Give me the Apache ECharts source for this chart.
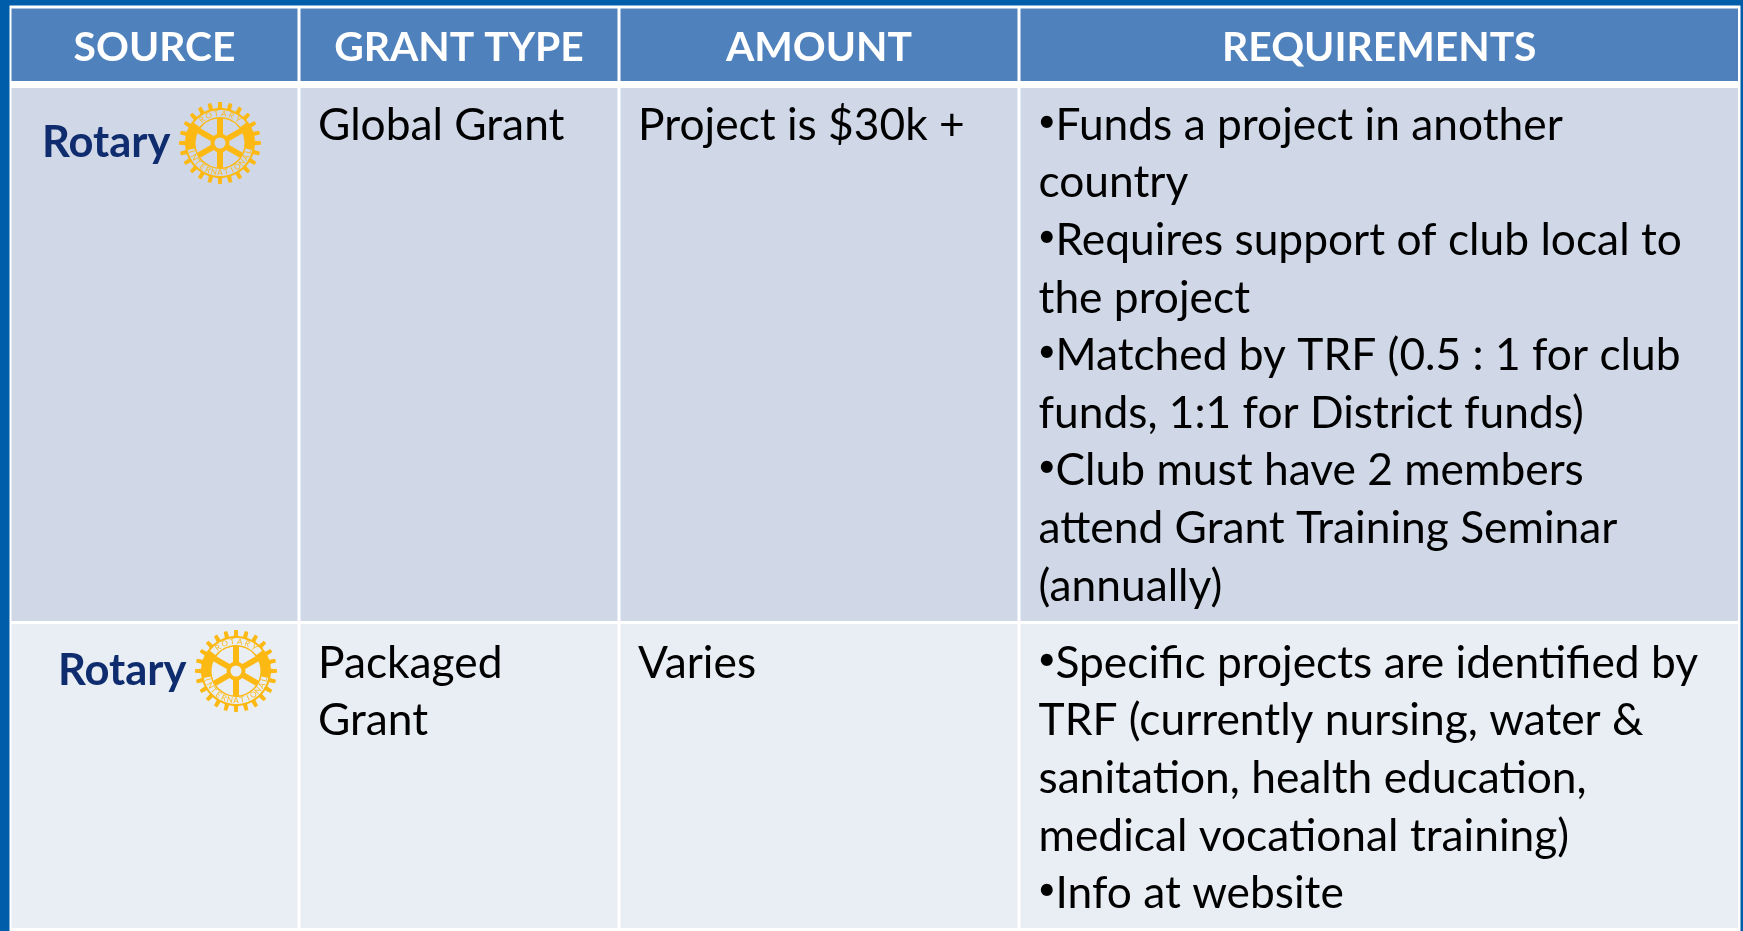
<!DOCTYPE html>
<html lang="en">

<head>
    <meta charset="UTF-8">
    <title>Rotary grants</title>
    <script src="https://cdnjs.cloudflare.com/ajax/libs/echarts/6.0.0/echarts.min.js"></script>
    <style>
        html, body { margin: 0; padding: 0; background: #005DAA; }
        #main { width: 1743px; height: 931px; }
    </style>
</head>

<body>
    <div id="main"></div>

    <script>
        // table content
        const headers = ['SOURCE', 'GRANT TYPE', 'AMOUNT', 'REQUIREMENTS'];
        const grantTypes = [['Global Grant'], ['Packaged', 'Grant']];
        const amounts = [['Project is $30k +'], ['Varies']];
        const requirements = [
            [
                '•Funds a project in another',
                'country',
                '•Requires support of club local to',
                'the project',
                '•Matched by TRF (0.5 : 1 for club',
                'funds, 1:1 for District funds)',
                '•Club must have 2 members',
                'attend Grant Training Seminar',
                '(annually)'
            ],
            [
                '•Specific projects are identified by',
                'TRF (currently nursing, water &',
                'sanitation, health education,',
                'medical vocational training)',
                '•Info at website'
            ]
        ];

        // layout, in axis units (same as pixels of the picture)
        const colLeft = [11.5, 300.5, 620.5, 1020.5];
        const colRight = [297.5, 617.5, 1017.5, 1738];
        const rowTop = [8.5, 88, 624];
        const rowBottom = [81, 621, 928];
        const logoAt = [[220, 143], [236, 671]];
        const wordAt = [[42, 157], [58, 685]];
        const firstBaseline = [140, 678];
        const lineStep = 57.6;
        const textX = [0, 318, 638, 1038.5];
        const bulletGap = 17;

        const FONT = 'Lato, Carlito, sans-serif';
        const BAND = '#005DAA', HEAD = '#4F81BD';
        const ROW_FILL = ['#D0D8E8', '#E9EDF4'];
        const GOLD = '#FDB913', NAVY = '#0F2D6E';

        const cells = [];
        rowTop.forEach((t, r) => colLeft.forEach((l, c) => cells.push([c, r])));

        const labels = [];
        headers.forEach((h, c) => labels.push({ value: [(colLeft[c] + colRight[c]) / 2, 62], text: h, head: true }));
        [grantTypes, amounts, requirements].forEach((col, c) => {
            col.forEach((lines, r) => {
                lines.forEach((text, i) => {
                    labels.push({ value: [textX[c + 1], firstBaseline[r] + i * lineStep], text: text });
                });
            });
        });

        function gearPoints(cx, cy, outer, root, teeth) {
            const pts = [];
            for (let i = 0; i < teeth; i++) {
                const a = i / teeth * Math.PI * 2;
                const w = Math.PI * 2 / teeth;
                [[-0.5, root], [-0.24, root], [-0.17, outer], [0.17, outer], [0.24, root]].forEach(p => {
                    pts.push([cx + Math.cos(a + p[0] * w) * p[1], cy + Math.sin(a + p[0] * w) * p[1]]);
                });
            }
            return pts;
        }

        function arcText(str, cx, cy, radius, midDeg, stepDeg, flip) {
            // letters set one by one round the ring
            const out = [];
            const n = str.length;
            for (let i = 0; i < n; i++) {
                const off = (i - (n - 1) / 2) * stepDeg;
                const deg = flip ? midDeg - off : midDeg + off;
                const a = deg * Math.PI / 180;
                out.push({
                    type: 'text',
                    x: cx + Math.cos(a) * radius,
                    y: cy + Math.sin(a) * radius,
                    rotation: flip ? (90 - deg) * Math.PI / 180 : (-90 - deg) * Math.PI / 180,
                    style: { text: str[i], font: '8px ' + FONT, fill: GOLD, align: 'center', verticalAlign: 'middle' }
                });
            }
            return out;
        }

        function renderLogo(params, api) {
            const i = params.dataIndex;
            const c = api.coord(logoAt[i]);
            const w = api.coord(wordAt[i]);
            const bg = ROW_FILL[i];
            const cx = c[0], cy = c[1];
            const kids = [
                { type: 'text', x: w[0], y: w[1] - 14, style: { text: 'Rotary', font: 'bold 43.5px ' + FONT, fill: NAVY, align: 'left', verticalAlign: 'middle' } },
                { type: 'polygon', shape: { points: gearPoints(cx, cy, 41, 35, 24) }, style: { fill: GOLD } },
                { type: 'circle', shape: { cx: cx, cy: cy, r: 34 }, style: { fill: GOLD } },
                { type: 'sector', shape: { cx: cx, cy: cy, r: 33, r0: 26, startAngle: -2.48, endAngle: -0.66 }, style: { fill: bg } },
                { type: 'sector', shape: { cx: cx, cy: cy, r: 33, r0: 26, startAngle: 0.21, endAngle: 2.93 }, style: { fill: bg } },
                { type: 'circle', shape: { cx: cx, cy: cy, r: 24.5 }, style: { fill: bg } }
            ];
            for (let k = 0; k < 3; k++) {
                const a = (60 + k * 60) * Math.PI / 180;
                const dx = Math.sin(a) * 25, dy = -Math.cos(a) * 25;
                kids.push({
                    type: 'line',
                    shape: { x1: cx - dx, y1: cy - dy, x2: cx + dx, y2: cy + dy },
                    style: { stroke: GOLD, lineWidth: 6 }
                });
            }
            kids.push({ type: 'line', shape: { x1: cx, y1: cy - 25, x2: cx, y2: cy + 25 }, style: { stroke: GOLD, lineWidth: 6 } });
            kids.push({ type: 'circle', shape: { cx: cx, cy: cy, r: 9.5 }, style: { fill: GOLD } });
            kids.push({ type: 'circle', shape: { cx: cx, cy: cy, r: 5.5 }, style: { fill: bg } });
            arcText('ROTARY', cx, cy, 29.5, -90, 15, false).forEach(t => kids.push(t));
            arcText('INTERNATIONAL', cx, cy, 29.5, 90, 12.2, true).forEach(t => kids.push(t));
            return { type: 'group', children: kids };
        }

        const myChart = echarts.init(document.getElementById('main'), null, { renderer: 'canvas' });

        const option = {
            animation: false,
            backgroundColor: BAND,
            grid: { left: 0, right: 0, top: 0, bottom: 0 },
            xAxis: { type: 'value', min: 0, max: 1743, show: false },
            yAxis: { type: 'value', min: 0, max: 931, inverse: true, show: false },
            series: [
                {
                    // white backing, shows through as the table rules
                    type: 'custom',
                    coordinateSystem: 'cartesian2d',
                    clip: false,
                    silent: true,
                    data: [[0, 0]],
                    renderItem: (params, api) => {
                        const a = api.coord([9.5, 5.5]);
                        const b = api.coord([1740.5, 931]);
                        return { type: 'rect', shape: { x: a[0], y: a[1], width: b[0] - a[0], height: b[1] - a[1] }, style: { fill: '#FFFFFF' } };
                    }
                },
                {
                    type: 'custom',
                    coordinateSystem: 'cartesian2d',
                    clip: false,
                    silent: true,
                    data: cells,
                    renderItem: (params, api) => {
                        const c = api.value(0), r = api.value(1);
                        const a = api.coord([colLeft[c], rowTop[r]]);
                        const b = api.coord([colRight[c], rowBottom[r]]);
                        return {
                            type: 'rect',
                            shape: { x: a[0], y: a[1], width: b[0] - a[0], height: b[1] - a[1] },
                            style: { fill: r === 0 ? HEAD : ROW_FILL[r - 1] }
                        };
                    }
                },
                {
                    type: 'custom',
                    coordinateSystem: 'cartesian2d',
                    clip: false,
                    silent: true,
                    data: labels,
                    renderItem: (params, api) => {
                        const item = labels[params.dataIndex];
                        const p = api.coord(item.value);
                        const y = p[1] - (item.head ? 14 : 14.5);
                        if (item.head) {
                            return {
                                type: 'text', x: p[0], y: y,
                                style: { text: item.text, font: 'bold 40.8px ' + FONT, fill: '#FFFFFF', align: 'center', verticalAlign: 'middle' }
                            };
                        }
                        // the bullet is smaller and tighter than the font's own
                        const bullet = item.text.charAt(0) === '•';
                        const kids = [{
                            type: 'text', x: p[0] + (bullet ? bulletGap : 0), y: y,
                            style: { text: bullet ? item.text.slice(1) : item.text, font: '44.3px ' + FONT, fill: '#000000', align: 'left', verticalAlign: 'middle' }
                        }];
                        if (bullet) {
                            kids.push({
                                type: 'text', x: p[0] - 1, y: y - 4,
                                style: { text: '•', font: '32px ' + FONT, fill: '#000000', align: 'left', verticalAlign: 'middle' }
                            });
                        }
                        return { type: 'group', children: kids };
                    }
                },
                {
                    type: 'custom',
                    coordinateSystem: 'cartesian2d',
                    clip: false,
                    silent: true,
                    data: logoAt,
                    renderItem: renderLogo
                }
            ]
        };

        myChart.setOption(option);
    </script>
</body>

</html>
